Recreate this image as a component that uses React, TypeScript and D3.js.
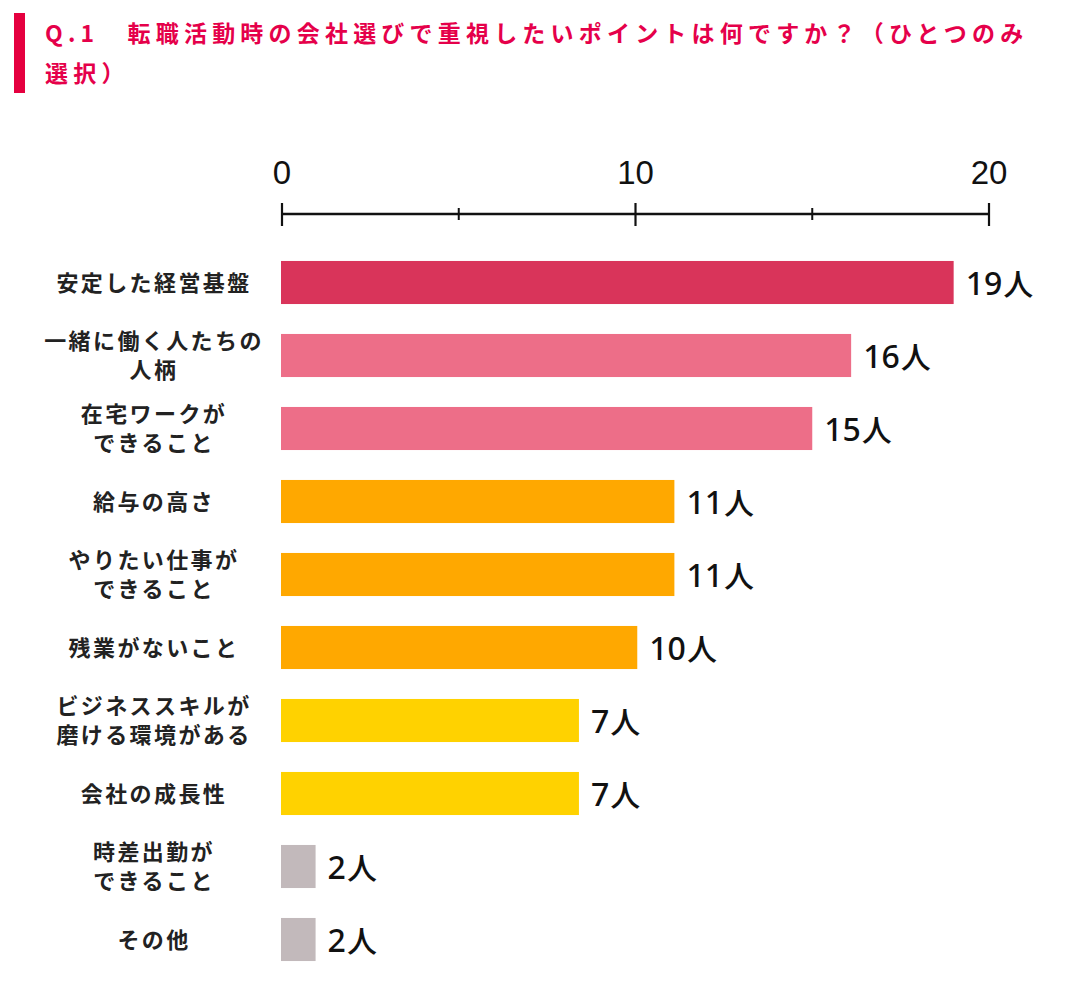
import React, { useRef, useEffect } from 'react';
import * as d3 from 'd3';

// 設問
const TITLE_LINES = [
  'Q.1　転職活動時の会社選びで重視したいポイントは何ですか？（ひとつのみ',
  '選択）',
];

// 項目（改行は \n）
const CATEGORIES = [
  '安定した経営基盤',
  '一緒に働く人たちの\n人柄',
  '在宅ワークが\nできること',
  '給与の高さ',
  'やりたい仕事が\nできること',
  '残業がないこと',
  'ビジネススキルが\n磨ける環境がある',
  '会社の成長性',
  '時差出勤が\nできること',
  'その他',
];

// 回答人数
const COUNTS = [19, 16, 15, 11, 11, 10, 7, 7, 2, 2];

// 図中で描かれているバーの長さ（目盛り単位で読み取り）
const BAR_LENGTHS = [19, 16.1, 15, 11.1, 11.1, 10.05, 8.4, 8.4, 0.95, 0.95];

// 色グループ
const GROUPS = [0, 1, 1, 2, 2, 2, 3, 3, 4, 4];
const GROUP_COLORS = ['#d9345a', '#ed6e88', '#ffa800', '#ffd200', '#c2b9bb'];

const AXIS_TICKS = [0, 10, 20];
const AXIS_MINOR = [5, 15];

const JP_FONT = '"Noto Sans CJK JP", "Noto Sans", sans-serif';
const NUM_FONT = '"Noto Sans", "Liberation Sans", Arial, sans-serif';
const AXIS_FONT = '"Liberation Sans", Arial, sans-serif';

export const App: React.FC = () => {
  const svgRef = useRef<SVGSVGElement>(null);

  useEffect(() => {
    const svg = d3.select(svgRef.current);
    svg.selectAll('*').remove();

    const width = 1082;
    const height = 996;
    svg.attr('width', width).attr('height', height);

    // タイトル
    svg.append('rect')
      .attr('x', 14).attr('y', 13)
      .attr('width', 11).attr('height', 80)
      .attr('fill', '#e5003f');

    const title = svg.append('text')
      .attr('font-family', JP_FONT)
      .attr('font-weight', 700)
      .attr('font-size', 23)
      .attr('letter-spacing', '5.2px')
      .attr('fill', '#e5004a');
    TITLE_LINES.forEach((line, i) => {
      title.append('tspan')
        .attr('x', 45)
        .attr('y', 42 + i * 40)
        .text(line);
    });

    // スケール
    const x = d3.scaleLinear().domain([0, 20]).range([282, 989]);
    const y = d3.scaleBand<string>()
      .domain(CATEGORIES)
      .range([246, 976])
      .paddingInner(0.41)
      .paddingOuter(0.205);

    // 上部の軸
    const axisY = 214;
    svg.append('line')
      .attr('x1', x(0)).attr('x2', x(20))
      .attr('y1', axisY).attr('y2', axisY)
      .attr('stroke', '#111').attr('stroke-width', 2.5);
    AXIS_TICKS.forEach(t => {
      svg.append('line')
        .attr('x1', x(t)).attr('x2', x(t))
        .attr('y1', axisY - 11).attr('y2', axisY + 12)
        .attr('stroke', '#111').attr('stroke-width', 2.2);
      svg.append('text')
        .attr('x', x(t))
        .attr('y', 184)
        .attr('text-anchor', 'middle')
        .attr('font-family', AXIS_FONT)
        .attr('font-size', 33)
        .attr('fill', '#111')
        .text(t);
    });
    AXIS_MINOR.forEach(t => {
      svg.append('line')
        .attr('x1', x(t)).attr('x2', x(t))
        .attr('y1', axisY - 6).attr('y2', axisY + 6)
        .attr('stroke', '#111').attr('stroke-width', 2);
    });

    // バーとラベル
    CATEGORIES.forEach((cat, i) => {
      const by = y(cat) ?? 0;
      const bh = y.bandwidth();
      const cy = by + bh / 2;
      const barEnd = x(BAR_LENGTHS[i]);

      svg.append('rect')
        .attr('x', x(0) - 1)
        .attr('y', by)
        .attr('width', barEnd - x(0) + 1)
        .attr('height', bh)
        .attr('fill', GROUP_COLORS[GROUPS[i]]);

      // 人数
      const val = svg.append('text')
        .attr('x', barEnd + 12)
        .attr('y', cy + 12)
        .attr('font-family', NUM_FONT)
        .attr('font-weight', 500)
        .attr('font-size', 32)
        .attr('fill', '#111');
      val.append('tspan').text(COUNTS[i]);
      val.append('tspan')
        .attr('font-family', JP_FONT)
        .attr('font-size', 30)
        .attr('dx', 1)
        .text('人');

      // 項目名
      const lines = cat.split('\n');
      const lineH = 29;
      const label = svg.append('text')
        .attr('text-anchor', 'middle')
        .attr('font-family', JP_FONT)
        .attr('font-weight', 700)
        .attr('font-size', 22)
        .attr('letter-spacing', '2.4px')
        .attr('fill', '#222');
      lines.forEach((ln, j) => {
        label.append('tspan')
          .attr('x', 154)
          .attr('y', cy + 8 + (j - (lines.length - 1) / 2) * lineH)
          .text(ln);
      });
    });
  }, []);

  return (
    <svg ref={svgRef} style={{ position: 'absolute', left: 0, top: 0, background: '#fff' }} />
  );
};

export default App;
